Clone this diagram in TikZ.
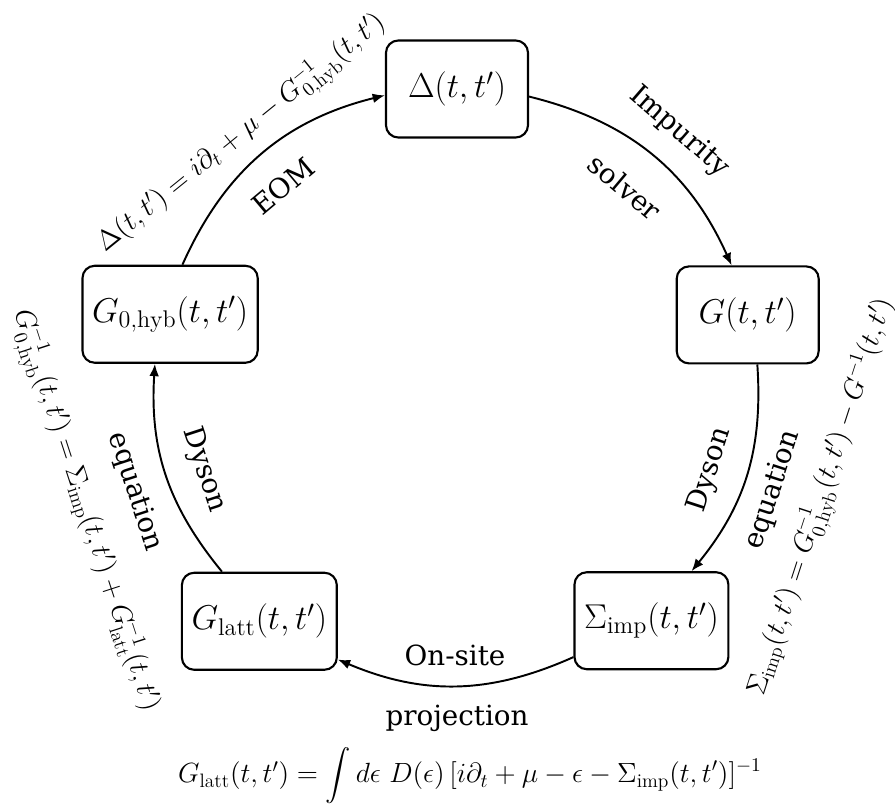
\RequirePackage{fix-cm}
\documentclass[tikz,border=0pt]{standalone}
\usepackage{fontspec}
\usepackage{amsmath}
\usepackage{tikz}
\usetikzlibrary{positioning}
\usetikzlibrary{arrows.meta}
\newfontfamily\wordfont{DejaVu Serif}

\begin{document}
\begin{tikzpicture}[>={Latex[length=7pt,width=5.5pt]},
    fn/.style={draw, line width=1.2pt, rounded corners=7pt, minimum width=2.84cm,
        minimum height=1.94cm, inner xsep=5.5pt, font=\fontsize{19.6}{23}\selectfont},
    word/.style={font=\wordfont\fontsize{15.8}{19}\selectfont},
    rel/.style={font=\fontsize{15.8}{19}\selectfont, inner sep=0pt},
    loop/.style={->, line width=1.1pt}]
\useasboundingbox (-9.14,-8.38) rectangle (8.76,7.78);

% --- quantities on the loop ---
\node[fn] (D) at (90:6) {$\Delta(t,t')$};
\node[fn] (G) at (14.3:6) {$G(t,t')$};
\node[fn] (S) at (-50:6.05) {$\Sigma_{\mathrm{imp}}(t,t')$};
\node[fn] (L) at (229.6:6.1) {$G_{\mathrm{latt}}(t,t')$};
\node[fn] (H) at (165.4:5.93) {$G_{0,\mathrm{hyb}}(t,t')$};

% --- arcs ---
\draw[loop] (D.-6) to[bend left=26] (G.108);
\draw[loop] (G.-79) to[bend left=21.5] (S.51);
\draw[loop] (S.205) to[bend left=23.5] (L.-26);
\draw[loop] (L.127) to[bend left=21.5] (H.-107);
\draw[loop] (H.76) to[bend left=26] (D.185);

% --- step names ---
\node[word, rotate=40] (eom) at (-3.48,4.06) {EOM};
\node[word, rotate=-41] (imp) at (4.44,5.14) {Impurity};
\node[word, rotate=-40] (solv) at (3.36,4.04) {solver};
\node[word, rotate=72] (dysR) at (5.06,-1.62) {Dyson};
\node[word, rotate=72] (eqnR) at (6.32,-2.02) {equation};
\node[word] (onsite) at (-0.04,-5.32) {On-site};
\node[word] (proj) at (0,-6.58) {projection};
\node[word, rotate=-72] (dysL) at (-5.06,-1.62) {Dyson};
\node[word, rotate=-72] (eqnL) at (-6.44,-2.06) {equation};

% --- relations ---
\node[rel, rotate=39] (relD) at (-4.3,5.1)
    {$\Delta(t,t') = i\partial_t + \mu - G^{-1}_{0,\mathrm{hyb}}(t,t')$};
\node[rel, rotate=72] (relS) at (7.3,-2.16)
    {$\Sigma_{\mathrm{imp}}(t,t') = G^{-1}_{0,\mathrm{hyb}}(t,t') - G^{-1}(t,t')$};
\node[rel] (relL) at (0.26,-7.74)
    {$G_{\mathrm{latt}}(t,t') = \displaystyle\int d\epsilon\ D(\epsilon)\,[i\partial_t + \mu - \epsilon - \Sigma_{\mathrm{imp}}(t,t')]^{-1}$};
\node[rel, rotate=-72] (relH) at (-7.44,-2.44)
    {$G^{-1}_{0,\mathrm{hyb}}(t,t') = \Sigma_{\mathrm{imp}}(t,t') + G^{-1}_{\mathrm{latt}}(t,t')$};
\end{tikzpicture}
\end{document}
